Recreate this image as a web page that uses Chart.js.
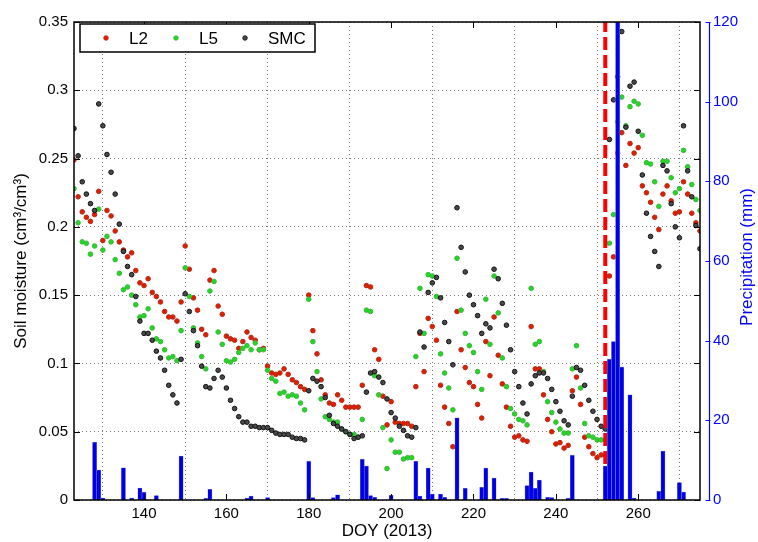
<!DOCTYPE html>
<html>
<head>
<meta charset="utf-8">
<title>Soil moisture and precipitation, DOY 2013</title>
<script src="https://cdn.jsdelivr.net/npm/chart.js@4.4.1/dist/chart.umd.min.js"></script>
<style>
  html, body { margin: 0; padding: 0; background: #fff; }
  canvas { display: block; }
</style>
</head>
<body>
<canvas id="soilChart" width="758" height="542"></canvas>
<script>
const FONT = "'Liberation Sans', Arial, Helvetica, sans-serif";

// tick labels
const xTicks = [140, 160, 180, 200, 220, 240, 260];
const yTicks = [0, 0.05, 0.1, 0.15, 0.2, 0.25, 0.3, 0.35];
const y2Ticks = [0, 20, 40, 60, 80, 100, 120];

// day of year for the soil moisture samples
const doy = [
  123, 124, 125, 126, 127, 128, 129, 130, 131, 132,
  133, 134, 135, 136, 137, 138, 139, 140, 141, 142,
  143, 144, 145, 146, 147, 148, 149, 150, 151, 152,
  153, 154, 155, 156, 157, 158, 159, 160, 161, 162,
  163, 164, 165, 166, 167, 168, 169, 170, 171, 172,
  173, 174, 175, 176, 177, 178, 179, 180, 181, 182,
  183, 184, 185, 186, 187, 188, 189, 190, 191, 192,
  193, 194, 195, 196, 197, 198, 199, 200, 201, 202,
  203, 204, 205, 206, 207, 208, 209, 210, 211, 212,
  213, 214, 215, 216, 217, 218, 219, 220, 221, 222,
  223, 224, 225, 226, 227, 228, 229, 230, 231, 232,
  233, 234, 235, 236, 237, 238, 239, 240, 241, 242,
  243, 244, 245, 246, 247, 248, 249, 250, 251, 252,
  253, 254, 255, 256, 257, 258, 259, 260, 261, 262,
  263, 264, 265, 266, 267, 268, 269, 270, 271, 272,
  273, 274, 275
];

const l2 = [
  0.249, 0.222, 0.211, 0.207, 0.204, 0.209, 0.226, 0.190, 0.212, 0.208,
  0.197, 0.189, 0.183, 0.178, 0.181, 0.168, 0.159, 0.157, 0.162, 0.152,
  0.149, 0.145, 0.138, 0.134, 0.134, 0.131, 0.145, 0.186, 0.169, 0.148,
  0.139, 0.125, 0.121, 0.161, 0.168, 0.142, 0.136, 0.120, 0.118, 0.117,
  0.111, 0.116, 0.123, 0.119, 0.117, 0.110, 0.111, 0.098, 0.093, 0.092,
  0.093, 0.096, 0.092, 0.088, 0.086, 0.083, 0.081, 0.150, 0.124, 0.107,
  0.088, 0.077, 0.071, 0.070, 0.077, 0.073, 0.068, 0.068, 0.068, 0.068,
  0.084, 0.157, 0.156, 0.110, 0.103, 0.076, 0.055, 0.072, 0.057, 0.056,
  0.056, 0.056, 0.054, 0.083, 0.122, 0.094, 0.133, 0.127, 0.117, 0.084,
  0.068, 0.056, 0.039, 0.138, 0.110, 0.097, 0.086, 0.083, 0.070, 0.060,
  0.116, 0.091, 0.134, 0.106, 0.085, 0.068, 0.054, 0.046, 0.047, 0.044,
  0.043, 0.127, 0.096, 0.096, 0.077, 0.059, 0.050, 0.041, 0.042, 0.038,
  0.040, 0.080, 0.090, 0.070, 0.046, 0.039, 0.034, 0.031, 0.033, 0.033,
  0.164, 0.178, 0.254, 0.269, 0.245, 0.261, 0.254, 0.258, 0.230, 0.225,
  0.218, 0.207, 0.198, 0.224, 0.230, 0.219, 0.210, 0.211, 0.233, 0.224,
  0.210, 0.203, 0.197
];

const l5 = [
  0.228, 0.203, 0.189, 0.188, 0.180, 0.186, 0.213, 0.183, 0.193, 0.189,
  0.176, 0.166, 0.154, 0.156, 0.150, 0.143, 0.134, 0.135, 0.140, 0.126,
  0.118, 0.116, 0.110, 0.104, 0.105, 0.102, 0.124, 0.170, 0.149, 0.126,
  0.115, 0.105, 0.096, 0.153, 0.160, 0.123, 0.114, 0.102, 0.101, 0.103,
  0.108, 0.111, 0.113, 0.110, 0.115, 0.110, 0.110, 0.095, 0.089, 0.087,
  0.078, 0.079, 0.076, 0.077, 0.076, 0.071, 0.066, 0.147, 0.116, 0.094,
  0.074, 0.061, 0.059, 0.057, 0.057, 0.052, 0.050, 0.048, 0.048, 0.046,
  0.059, 0.139, 0.138, 0.091, 0.077, 0.053, 0.023, 0.044, 0.035, 0.035,
  0.030, 0.031, 0.031, 0.105, 0.155, 0.122, 0.165, 0.164, 0.149, 0.107,
  0.093, 0.082, 0.066, 0.177, 0.139, 0.122, 0.113, 0.108, 0.094, 0.081,
  0.147, 0.114, 0.164, 0.137, 0.104, 0.083, 0.067, 0.063, 0.059, 0.058,
  0.055, 0.155, 0.114, 0.116, 0.094, 0.072, 0.064, 0.057, 0.052, 0.049,
  0.049, 0.096, 0.113, 0.082, 0.056, 0.047, 0.046, 0.044, 0.044, 0.044,
  0.188, 0.209, 0.277, 0.295, 0.274, 0.288, 0.292, 0.290, 0.267, 0.247,
  0.246, 0.233, 0.215, 0.248, 0.248, 0.236, 0.225, 0.228, 0.256, 0.244,
  0.231, 0.220, 0.212
];

const smc = [
  0.272, 0.252, 0.233, 0.224, 0.217, 0.212, 0.290, 0.274, 0.253, 0.240,
  0.224, 0.202, 0.182, 0.171, 0.165, 0.149, 0.131, 0.122, 0.122, 0.117,
  0.109, 0.104, 0.095, 0.084, 0.077, 0.071, 0.103, 0.151, 0.138, 0.124,
  0.113, 0.098, 0.083, 0.082, 0.089, 0.095, 0.090, 0.082, 0.073, 0.067,
  0.061, 0.057, 0.057, 0.054, 0.054, 0.053, 0.053, 0.053, 0.051, 0.049,
  0.048, 0.048, 0.048, 0.046, 0.045, 0.045, 0.044, 0.080, 0.089, 0.087,
  0.083, 0.075, 0.062, 0.056, 0.054, 0.052, 0.050, 0.048, 0.045, 0.046,
  0.047, 0.079, 0.093, 0.094, 0.090, 0.086, 0.074, 0.064, 0.060, 0.054,
  0.051, 0.047, 0.046, 0.053, 0.123, 0.112, 0.152, 0.159, 0.163, 0.148,
  0.130, 0.116, 0.099, 0.214, 0.185, 0.167, 0.150, 0.143, 0.135, 0.122,
  0.129, 0.126, 0.169, 0.162, 0.144, 0.128, 0.110, 0.094, 0.083, 0.071,
  0.063, 0.085, 0.091, 0.093, 0.093, 0.089, 0.081, 0.072, 0.065, 0.058,
  0.055, 0.076, 0.097, 0.095, 0.084, 0.073, 0.065, 0.059, 0.054, 0.052,
  0.264, 0.293, 0.310, 0.343, 0.273, 0.303, 0.306, 0.270, 0.238, 0.210,
  0.193, 0.182, 0.171, 0.245, 0.241, 0.217, 0.200, 0.192, 0.274, 0.241,
  0.222, 0.201, 0.184
];

// daily precipitation (mm), only days with rain
const rainDays = [128, 129, 130, 135, 137, 139, 140, 143, 149, 155, 156, 165, 166, 170,
  180, 181, 186, 187, 193, 194, 195, 196, 200, 206, 207, 209, 210, 212, 213,
  216, 218, 222, 223, 225, 227, 228, 233, 234, 235, 236, 238, 239, 243, 244,
  252, 253, 254, 255, 256, 258, 259, 265, 266, 270, 271];
const rainMm = [14.5, 7.5, 0.5, 8.1, 0.5, 3.0, 1.9, 1.1, 11.0, 0.4, 2.7, 0.5, 1.0, 0.6,
  9.7, 0.6, 0.6, 1.3, 10.2, 8.5, 1.1, 0.7, 1.2, 9.7, 1.0, 8.0, 1.5, 1.5, 0.7,
  20.6, 2.9, 3.2, 8.0, 5.5, 0.4, 0.4, 3.6, 7.0, 2.9, 5.0, 0.7, 0.6, 0.4, 11.2,
  8.5, 35.3, 39.8, 120, 33.4, 26.4, 0.5, 2.2, 12.3, 4.4, 2.0];

// the big rain event marker
const eventDay = 252;

const toPoints = (xs, ys) => xs.map((x, i) => ({ x: x, y: ys[i] }));

// box, inward ticks, the offset blue axis, its title, and the legend
const matlabFrame = {
  id: 'matlabFrame',
  afterDraw(chart) {
    const { ctx, chartArea: a, scales } = chart;
    const x = scales.x, y = scales.y, y2 = scales.y2;
    ctx.save();

    ctx.strokeStyle = '#000';
    ctx.lineWidth = 1.5;
    ctx.strokeRect(a.left, a.top, a.right - a.left, a.bottom - a.top);
    ctx.beginPath();
    xTicks.forEach(v => {
      const px = Math.round(x.getPixelForValue(v)) + 0.5;
      ctx.moveTo(px, a.bottom); ctx.lineTo(px, a.bottom - 6);
      ctx.moveTo(px, a.top); ctx.lineTo(px, a.top + 6);
    });
    yTicks.forEach(v => {
      const py = Math.round(y.getPixelForValue(v)) + 0.5;
      ctx.moveTo(a.left, py); ctx.lineTo(a.left + 6, py);
      ctx.moveTo(a.right, py); ctx.lineTo(a.right - 6, py);
    });
    ctx.lineWidth = 1;
    ctx.stroke();

    // right precipitation axis sits a little outside the box
    const bx = a.right + 9.5;
    ctx.strokeStyle = '#0000ff';
    ctx.lineWidth = 1.2;
    ctx.beginPath();
    ctx.moveTo(bx, a.top); ctx.lineTo(bx, a.bottom);
    y2Ticks.forEach(v => {
      const py = Math.round(y2.getPixelForValue(v)) + 0.5;
      ctx.moveTo(bx - 4, py); ctx.lineTo(bx + 1, py);
    });
    ctx.stroke();

    ctx.fillStyle = '#0000ff';
    ctx.font = '17px ' + FONT;
    ctx.textAlign = 'center';
    ctx.textBaseline = 'middle';
    ctx.translate(747, (a.top + a.bottom) / 2 - 4);
    ctx.rotate(-Math.PI / 2);
    ctx.fillText('Precipitation (mm)', 0, 0);
    ctx.setTransform(1, 0, 0, 1, 0, 0);

    // legend
    const bxL = 80, byL = 24, bw = 235, bh = 28;
    ctx.fillStyle = '#fff';
    ctx.fillRect(bxL, byL, bw, bh);
    ctx.strokeStyle = '#000';
    ctx.lineWidth = 1.5;
    ctx.strokeRect(bxL, byL, bw, bh);
    const names = ['L2', 'L5', 'SMC'];
    const markX = [106, 176, 245];
    ctx.font = '17px ' + FONT;
    ctx.textAlign = 'left';
    names.forEach((name, i) => {
      const ds = chart.data.datasets.find(d => d.label === name);
      const cy = byL + bh / 2;
      ctx.beginPath();
      ctx.arc(markX[i], cy, 2.3, 0, Math.PI * 2);
      ctx.fillStyle = ds.backgroundColor;
      ctx.fill();
      ctx.lineWidth = 0.8;
      ctx.strokeStyle = ds.borderColor;
      ctx.stroke();
      ctx.fillStyle = '#000';
      ctx.fillText(name, markX[i] + 23, cy + 1);
    });
    ctx.restore();
  }
};

const ctx = document.getElementById('soilChart').getContext('2d');
new Chart(ctx, {
  type: 'scatter',
  data: {
    datasets: [
      {
        type: 'bar',
        label: 'Precipitation',
        data: toPoints(rainDays, rainMm),
        yAxisID: 'y2',
        backgroundColor: '#0000e6',
        borderColor: '#7f86d6',
        borderWidth: 0.5,
        barPercentage: 1,
        categoryPercentage: 1,
        order: 0
      },
      {
        type: 'line',
        label: 'event',
        data: [{ x: eventDay, y: 0 }, { x: eventDay, y: 0.35 }],
        yAxisID: 'y',
        showLine: true,
        borderColor: '#ff0000',
        borderWidth: 4,
        borderDash: [13, 5],
        pointRadius: 0,
        order: 1
      },
      {
        label: 'SMC',
        data: toPoints(doy, smc),
        yAxisID: 'y',
        backgroundColor: '#4a4a4a',
        borderColor: '#101010',
        pointRadius: 2.3,
        borderWidth: 1,
        order: 2
      },
      {
        label: 'L5',
        data: toPoints(doy, l5),
        yAxisID: 'y',
        backgroundColor: '#22d822',
        borderColor: '#3cb43c',
        pointRadius: 2.3,
        borderWidth: 1,
        order: 3
      },
      {
        label: 'L2',
        data: toPoints(doy, l2),
        yAxisID: 'y',
        backgroundColor: '#e01e00',
        borderColor: '#b42814',
        pointRadius: 2.3,
        borderWidth: 1,
        order: 4
      }
    ]
  },
  options: {
    responsive: false,
    animation: false,
    layout: { padding: { top: 18, left: 0, right: 0, bottom: 0 } },
    plugins: { legend: { display: false }, tooltip: { enabled: false } },
    scales: {
      x: {
        type: 'linear',
        min: 123,
        max: 275,
        offset: false,
        afterBuildTicks: s => { s.ticks = xTicks.map(v => ({ value: v })); },
        afterFit: s => { s.height = 42; },
        grid: { color: '#777', lineWidth: 1, drawTicks: false },
        border: { display: false, dash: [1, 3] },
        ticks: { color: '#000', font: { family: FONT, size: 15 }, padding: 5, maxRotation: 0, autoSkip: false },
        title: {
          display: true, text: 'DOY (2013)', color: '#000',
          font: { family: FONT, size: 17 }, padding: { top: 0, bottom: 0 }
        }
      },
      y: {
        position: 'left',
        min: 0,
        max: 0.35,
        afterBuildTicks: s => { s.ticks = yTicks.map(v => ({ value: v })); },
        afterFit: s => { s.width = 74; },
        grid: { color: '#777', lineWidth: 1, drawTicks: false },
        border: { display: false, dash: [1, 3] },
        ticks: { color: '#000', font: { family: FONT, size: 15 }, padding: 6, callback: v => String(v) },
        title: {
          display: true, text: 'Soil moisture (cm³/cm³)', color: '#000',
          font: { family: FONT, size: 17 }, padding: { top: 11, bottom: 0 }
        }
      },
      y2: {
        position: 'right',
        min: 0,
        max: 120,
        afterBuildTicks: s => { s.ticks = y2Ticks.map(v => ({ value: v })); },
        afterFit: s => { s.width = 58; },
        grid: { display: false, drawTicks: false },
        border: { display: false },
        ticks: { color: '#0000ff', font: { family: FONT, size: 15 }, padding: 13 }
      }
    }
  },
  plugins: [matlabFrame]
});
</script>
</body>
</html>
